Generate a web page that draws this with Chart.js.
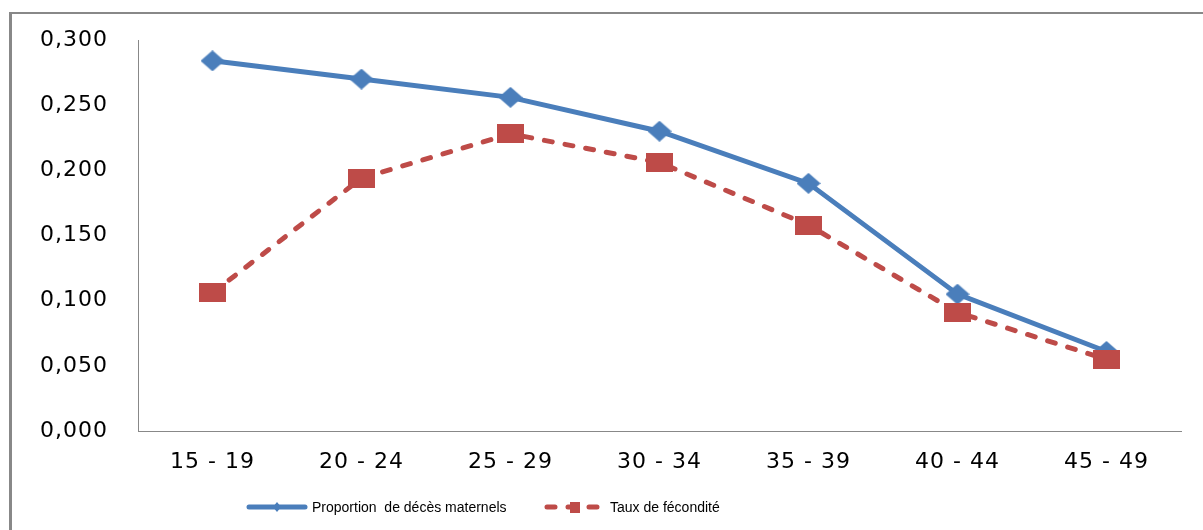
<!DOCTYPE html>
<html>
<head>
<meta charset="utf-8">
<script src="https://cdn.jsdelivr.net/npm/chart.js@4/dist/chart.umd.min.js"></script>
<style>
    body { margin: 0; background: #fff; overflow: hidden; }
    #wrap { position: relative; width: 1203px; height: 530px; overflow: hidden; }
    #frame {
        position: absolute; left: 9px; top: 12px; width: 1400px; height: 700px;
        border-left: 3px solid #888; border-top: 2px solid #888;
    }
    #chart { position: absolute; left: 0; top: 0; }
</style>
</head>
<body>
<div id="wrap">
    <div id="frame"></div>
    <canvas id="chart" width="1203" height="530"></canvas>
</div>
<script>
// Age groups and the two series
const ageGroups = ["15 - 19", "20 - 24", "25 - 29", "30 - 34", "35 - 39", "40 - 44", "45 - 49"];
const maternalDeaths = [0.284, 0.270, 0.256, 0.230, 0.190, 0.105, 0.061];
const fertilityRate = [0.106, 0.194, 0.228, 0.206, 0.158, 0.091, 0.055];
const seriesLabels = ["Proportion  de décès maternels", "Taux de fécondité"];

const BLUE = "#4a7ebb";
const RED = "#be4b48";

// Marker shapes as small canvases
function diamondMarker(w, h, color) {
    const c = document.createElement("canvas");
    c.width = w;
    c.height = h;
    const g = c.getContext("2d");
    g.fillStyle = color;
    g.beginPath();
    g.moveTo(w / 2, 0);
    g.lineTo(w, h / 2);
    g.lineTo(w / 2, h);
    g.lineTo(0, h / 2);
    g.closePath();
    g.fill();
    return c;
}

function squareMarker(w, h, color) {
    const c = document.createElement("canvas");
    c.width = w;
    c.height = h;
    const g = c.getContext("2d");
    g.fillStyle = color;
    g.fillRect(0, 0, w, h);
    return c;
}

const blueMarker = diamondMarker(24, 21, BLUE);
const redMarker = squareMarker(27, 19, RED);

// slightly wider tick lettering
const spacingPlugin = {
    id: "tickSpacing",
    beforeDraw(chart) {
        chart.ctx.letterSpacing = "1px";
    },
};

// Legend drawn by hand below the axis
const legendPlugin = {
    id: "bottomLegend",
    afterDraw(chart) {
        const ctx = chart.ctx;
        const ds = chart.data.datasets;
        const y = 507;
        const items = [
            { x: 247, marker: diamondMarker(8, 10, BLUE) },
            { x: 545, marker: squareMarker(10, 11, RED) },
        ];
        ctx.save();
        ctx.letterSpacing = "0px";
        ctx.font = "14px 'Liberation Sans', Arial, sans-serif";
        ctx.textBaseline = "middle";
        ctx.fillStyle = "#000";
        items.forEach((item, i) => {
            const d = ds[i];
            ctx.strokeStyle = d.borderColor;
            ctx.lineWidth = 5;
            ctx.lineCap = "round";
            ctx.setLineDash(d.borderDash || []);
            ctx.beginPath();
            ctx.moveTo(item.x + 2, y);
            ctx.lineTo(item.x + 58, y);
            ctx.stroke();
            ctx.setLineDash([]);
            const m = item.marker;
            ctx.drawImage(m, item.x + 30 - m.width / 2, y - m.height / 2);
            ctx.fillText(d.label, item.x + 65, y + 1);
        });
        ctx.restore();
    },
};

const ctx = document.getElementById("chart").getContext("2d");
const chart = new Chart(ctx, {
    type: "line",
    data: {
        labels: ageGroups,
        datasets: [
            {
                label: seriesLabels[0],
                data: maternalDeaths,
                borderColor: BLUE,
                borderWidth: 5,
                pointStyle: blueMarker,
                tension: 0,
                fill: false,
                order: 2,
            },
            {
                label: seriesLabels[1],
                data: fertilityRate,
                borderColor: RED,
                borderWidth: 5,
                borderDash: [8, 13],
                borderCapStyle: "round",
                pointStyle: redMarker,
                tension: 0,
                fill: false,
                order: 1,
            },
        ],
    },
    options: {
        responsive: false,
        animation: false,
        devicePixelRatio: 1,
        layout: { padding: { left: 0, right: 22, top: 40, bottom: 0 } },
        plugins: {
            legend: { display: false },
            tooltip: { enabled: false },
        },
        scales: {
            x: {
                offset: true,
                grid: { display: false, drawTicks: false },
                border: { display: true, color: "#888", width: 1 },
                ticks: {
                    color: "#000",
                    padding: 18,
                    font: { family: "'DejaVu Sans', sans-serif", size: 22 },
                },
                afterFit(scale) {
                    scale.height = 99;
                },
            },
            y: {
                min: 0,
                max: 0.3,
                grid: { display: false, drawTicks: false },
                border: { display: true, color: "#888", width: 1 },
                ticks: {
                    stepSize: 0.05,
                    color: "#000",
                    padding: 30,
                    font: { family: "'DejaVu Sans', sans-serif", size: 22 },
                    callback: (v) => v.toFixed(3).replace(".", ","),
                },
                afterFit(scale) {
                    scale.width = 138;
                    scale.paddingTop = 0;
                    scale.paddingBottom = 0;
                },
            },
        },
    },
    plugins: [spacingPlugin, legendPlugin],
});
</script>
</body>
</html>
